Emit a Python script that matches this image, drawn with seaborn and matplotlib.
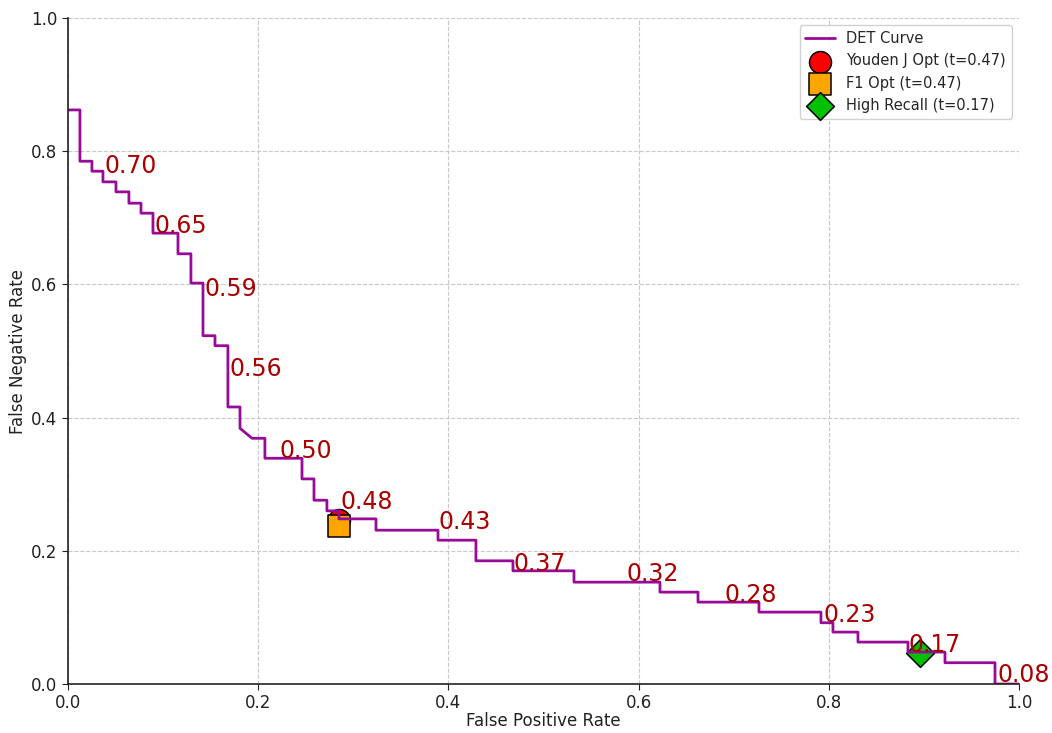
import numpy as np
import pandas as pd
import matplotlib
matplotlib.use('Agg')
import matplotlib.pyplot as plt
import seaborn as sns

# DET curve points (false positive rate, false negative rate)
fpr = [0.000, 0.0126, 0.0126, 0.0252, 0.0252, 0.0368, 0.0368, 0.0505, 0.0505, 0.0641,
       0.0641, 0.0768, 0.0768, 0.0894, 0.0894, 0.1157, 0.1157, 0.1293, 0.1293, 0.1420,
       0.1420, 0.1546, 0.1546, 0.1682, 0.1682, 0.1809, 0.1809, 0.1935, 0.2071, 0.2071,
       0.2461, 0.2461, 0.2587, 0.2587, 0.2723, 0.2723, 0.2850, 0.2850, 0.3239, 0.3239,
       0.3891, 0.3891, 0.4290, 0.4290, 0.4679, 0.4679, 0.5321, 0.5321, 0.6225, 0.6225,
       0.6625, 0.6625, 0.7266, 0.7266, 0.7918, 0.7918, 0.8044, 0.8044, 0.8307, 0.8307,
       0.8833, 0.8833, 0.9222, 0.9222, 0.9748, 0.9748, 1.000]
fnr = [0.862, 0.862, 0.785, 0.785, 0.770, 0.770, 0.754, 0.754, 0.739, 0.739,
       0.722, 0.722, 0.707, 0.707, 0.677, 0.677, 0.646, 0.646, 0.602, 0.602,
       0.523, 0.523, 0.508, 0.508, 0.416, 0.416, 0.384, 0.369, 0.369, 0.339,
       0.339, 0.308, 0.308, 0.276, 0.276, 0.260, 0.260, 0.248, 0.248, 0.231,
       0.231, 0.216, 0.216, 0.185, 0.185, 0.170, 0.170, 0.153, 0.153, 0.138,
       0.138, 0.123, 0.123, 0.108, 0.108, 0.092, 0.092, 0.078, 0.078, 0.063,
       0.063, 0.048, 0.048, 0.032, 0.032, 0.000, 0.000]

# threshold annotations along the curve
thr_text = ['0.70', '0.65', '0.59', '0.56', '0.50', '0.48', '0.43',
            '0.37', '0.32', '0.28', '0.23', '0.17', '0.08']
thr_fpr = [0.0389, 0.0915, 0.1440, 0.1700, 0.2220, 0.2870, 0.3900,
           0.4690, 0.5870, 0.6900, 0.7940, 0.8840, 0.9770]
thr_fnr = [0.768, 0.677, 0.583, 0.462, 0.339, 0.263, 0.233,
           0.170, 0.155, 0.123, 0.093, 0.048, 0.003]

# operating points
youden_pt = (0.285, 0.246)
f1_pt = (0.285, 0.237)
recall_pt = (0.896, 0.047)

sns.set_style('ticks')
plt.rcParams['font.family'] = ['DejaVu Sans']

fig = plt.figure(figsize=(10.52, 7.33), dpi=100)
ax = fig.add_axes([0.0646, 0.0668, 0.904, 0.9086])

sns.lineplot(x=fpr, y=fnr, sort=False, estimator=None, color='#980a98',
             linewidth=2, label='DET Curve', ax=ax)

sns.scatterplot(x=[youden_pt[0]], y=[youden_pt[1]], marker='o', s=250, color='red',
                edgecolor='black', linewidth=1.1, label='Youden J Opt (t=0.47)', ax=ax)
sns.scatterplot(x=[f1_pt[0]], y=[f1_pt[1]], marker='s', s=250, color='orange',
                edgecolor='black', linewidth=1.1, label='F1 Opt (t=0.47)', ax=ax)
sns.scatterplot(x=[recall_pt[0]], y=[recall_pt[1]], marker='D', s=200, color='#00c000',
                edgecolor='black', linewidth=1.1, label='High Recall (t=0.17)', ax=ax)

for t, x, y in zip(thr_text, thr_fpr, thr_fnr):
    ax.text(x, y, t, color='#aa0000', fontsize=17, ha='left', va='baseline', zorder=5)

ax.set_xlim(0, 1)
ax.set_ylim(0, 1)
ax.set_xticks([0, 0.2, 0.4, 0.6, 0.8, 1.0])
ax.set_yticks([0, 0.2, 0.4, 0.6, 0.8, 1.0])
ax.set_xlabel('False Positive Rate', fontsize=12, color='#222222', labelpad=0)
ax.set_ylabel('False Negative Rate', fontsize=12, color='#222222', labelpad=3)
ax.tick_params(labelsize=12, colors='#222222', length=4)
ax.grid(True, linestyle='--', color='#c8c8c8', linewidth=0.8)
sns.despine(ax=ax)
for side in ['left', 'bottom']:
    ax.spines[side].set_color('#222222')
    ax.spines[side].set_linewidth(1.2)

ax.legend(loc='upper right', fontsize=10.5, frameon=True, fancybox=True,
          edgecolor='#cccccc', framealpha=0.9)

fig.savefig('out.png', dpi=100)
